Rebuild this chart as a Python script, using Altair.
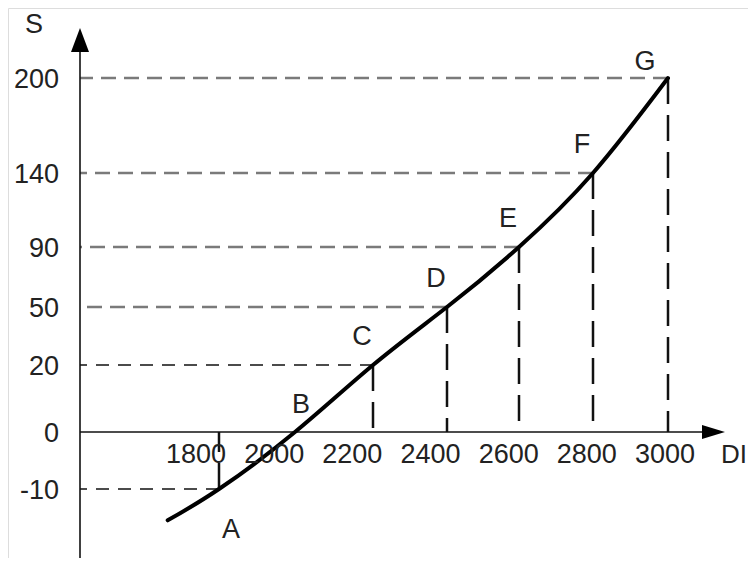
import altair as alt
import pandas as pd

# ---- data ----
point_names = ["A", "B", "C", "D", "E", "F", "G"]
point_di = [1800, 2000, 2200, 2400, 2600, 2800, 3000]
point_s = [-10, 0, 20, 50, 90, 140, 200]

curve_di = [1665, 1800, 2000, 2200, 2400, 2600, 2800, 3000]
curve_s = [-15.5, -10, 0, 20, 50, 90, 140, 200]

x_tick_labels = ["1800", "2000", "2200", "2400", "2600", "2800", "3000"]
x_tick_values = [1800, 2000, 2200, 2400, 2600, 2800, 3000]
y_tick_labels = ["200", "140", "90", "50", "20", "0", "-10"]
y_tick_values = [200, 140, 90, 50, 20, 0, -10]

# ---- layout (schematic, non-uniform axes) ----
W, H = 740, 550
X_RANGE = [211, 287, 365, 439, 511, 585, 660]
Y_RANGE = [481, 424, 357, 299, 239, 165, 70]
AXIS_X = 72
FONT = "Liberation Sans"
FS = 27

xs = alt.Scale(domain=point_di, range=X_RANGE, nice=False, zero=False)
ys = alt.Scale(domain=point_s, range=Y_RANGE, nice=False, zero=False)
xlab = alt.Scale(domain=[1800, 3000], range=[188, 657], nice=False, zero=False)

points = pd.DataFrame({"name": point_names, "x": point_di, "y": point_s})
curve = pd.DataFrame({"x": curve_di, "y": curve_s})
one = pd.DataFrame({"k": [0]})

X = lambda f: alt.X(f, scale=xs, axis=None)
Y = lambda f: alt.Y(f, scale=ys, axis=None)
Y0 = alt.YDatum(0, scale=ys, axis=None)

# axes
y_axis = alt.Chart(one).mark_rule(color="#111", strokeWidth=1.6).encode(
    x=alt.value(AXIS_X), y=alt.value(44), y2=alt.value(H))
x_axis = alt.Chart(one).mark_rule(color="#111", strokeWidth=1.6).encode(
    x=alt.value(AXIS_X), x2=alt.value(695), y=Y0)
y_arrow = alt.Chart(one).mark_point(
    shape="M0,-1L0.75,1L-0.75,1Z", size=576, filled=True, color="black", opacity=1
).encode(x=alt.value(AXIS_X), y=alt.value(32))
x_arrow = alt.Chart(one).mark_point(
    shape="M1,0L-1,-0.6L-1,0.6Z", size=529, filled=True, color="black", opacity=1
).encode(x=alt.value(705.5), y=Y0)

# horizontal guide lines
h_grey = alt.Chart(points).transform_filter(
    alt.FieldOneOfPredicate(field="name", oneOf=["D", "E", "F", "G"])
).mark_rule(color="#7a7a7a", strokeWidth=2.3, strokeDash=[15, 8]).encode(
    x=X("x:Q"), x2=alt.value(AXIS_X), y=Y("y:Q"))
h_black = alt.Chart(points).transform_filter(
    alt.FieldOneOfPredicate(field="name", oneOf=["A", "C"])
).mark_rule(color="#111", strokeWidth=1.3, strokeDash=[13, 9]).encode(
    x=X("x:Q"), x2=alt.value(AXIS_X), y=Y("y:Q"))

# vertical guide lines
v_lines = alt.Chart(points).transform_filter(
    alt.datum.name != "B"
).mark_rule(color="#111", strokeWidth=2.5, strokeDash=[26, 11]).encode(
    x=X("x:Q"), y=Y("y:Q"), y2=alt.datum(0))

# curve
line = alt.Chart(curve).mark_line(
    interpolate="natural", color="black", strokeWidth=4, strokeCap="round"
).encode(x=X("x:Q"), y=Y("y:Q"))

# point letters
def letters(names, dx, dy):
    return alt.Chart(points).transform_filter(
        alt.FieldOneOfPredicate(field="name", oneOf=names)
    ).mark_text(font=FONT, fontSize=FS, color="#222", dx=dx, dy=dy,
                baseline="middle", align="center").encode(
        x=X("x:Q"), y=Y("y:Q"), text="name:N")

lab_a = letters(["A"], 12, 41)
lab_b = letters(["B"], 6, -27)
lab_cf = letters(["C", "D", "E", "F"], -11, -28)
lab_g = letters(["G"], -23, -16)

# tick labels
ylabels = alt.Chart(pd.DataFrame({"v": y_tick_values, "t": y_tick_labels})).mark_text(
    font=FONT, fontSize=FS, color="#222", align="right", baseline="alphabetic", dy=10
).encode(x=alt.value(51), y=Y("v:Q"), text="t:N")

xlabels = alt.Chart(pd.DataFrame({"v": x_tick_values, "t": x_tick_labels})).mark_text(
    font=FONT, fontSize=FS, color="#222", align="center", baseline="alphabetic", dy=31
).encode(x=alt.X("v:Q", scale=xlab, axis=None), y=Y0, text="t:N")

# axis titles
s_title = alt.Chart(one).mark_text(
    font=FONT, fontSize=FS, color="#222", align="center", baseline="alphabetic"
).encode(x=alt.value(26), y=alt.value(25), text=alt.value("S"))
di_title = alt.Chart(one).mark_text(
    font=FONT, fontSize=26, color="#222", align="right", baseline="alphabetic", dy=31
).encode(x=alt.value(W - 1), y=Y0, text=alt.value("DI"))

chart = alt.layer(
    h_grey, h_black, v_lines, y_axis, x_axis, y_arrow, x_arrow, line,
    lab_a, lab_b, lab_cf, lab_g, ylabels, xlabels, s_title, di_title
).resolve_scale(x="independent").properties(
    width=W, height=H, padding=0, autosize="none"
).configure_view(stroke=None).configure(background="white")

chart.save("out.html", embed_options={"renderer": "svg", "actions": False})
